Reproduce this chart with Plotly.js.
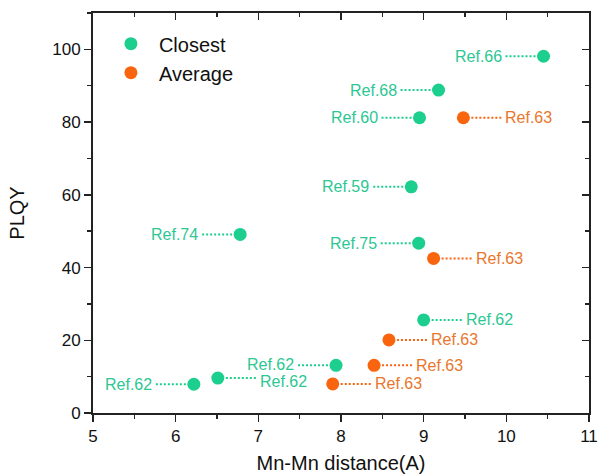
<!DOCTYPE html>
<html>
<head>
<meta charset="utf-8">
<script src="https://cdn.plot.ly/plotly-3.0.1.min.js"></script>
<style>html,body{margin:0;padding:0;background:#fff;}#chart{width:599px;height:475px;}</style>
</head>
<body>
<div id="chart"></div>
<script>
// Data
var closestX = [10.45, 9.18, 8.95, 8.85, 8.94, 6.78, 9.00, 7.94, 6.51, 6.22];
var closestY = [98.1, 88.8, 81.2, 62.2, 46.7, 49.1, 25.6, 13.1, 9.6, 7.9];
var closestRef = ['Ref.66', 'Ref.68', 'Ref.60', 'Ref.59', 'Ref.75', 'Ref.74', 'Ref.62', 'Ref.62', 'Ref.62', 'Ref.62'];
var closestSide = ['left', 'left', 'left', 'left', 'left', 'left', 'right', 'left', 'right', 'left'];
// small vertical nudge (px) of label text, to keep neighbouring labels apart
var closestNudge = [0, 0, 0, 0, 0, 0, 0, 1, -3, 0];

var averageX = [9.48, 9.12, 8.58, 8.40, 7.90];
var averageY = [81.2, 42.5, 20.1, 13.1, 8.0];
var averageRef = ['Ref.63', 'Ref.63', 'Ref.63', 'Ref.63', 'Ref.63'];
var averageSide = ['right', 'right', 'right', 'right', 'right'];
var averageNudge = [0, 0, 0, 0, 0];

var xRange = [5, 11];
var yRange = [0, 110];

var FONT = 'Liberation Sans, Arial, sans-serif';
var green = '#1ccf8e', greenText = '#2cc793';
var orange = '#f9650f', orangeText = '#e8772c';
var axisColor = '#222';

var traces = [
  {x: closestX, y: closestY, type: 'scatter', mode: 'markers', name: 'Closest',
   marker: {color: green, size: 13}, hoverinfo: 'x+y'},
  {x: averageX, y: averageY, type: 'scatter', mode: 'markers', name: 'Average',
   marker: {color: orange, size: 13}, hoverinfo: 'x+y'},
  {x: [], y: [], xaxis: 'x2', yaxis: 'y', showlegend: false, hoverinfo: 'skip', type: 'scatter'},
  {x: [], y: [], xaxis: 'x', yaxis: 'y2', showlegend: false, hoverinfo: 'skip', type: 'scatter'}
];

var annotations = [], shapes = [];
function addLabels(xs, ys, refs, sides, nudges, lineColor, textColor) {
  for (var i = 0; i < xs.length; i++) {
    var dir = sides[i] === 'left' ? -1 : 1;
    annotations.push({
      x: xs[i], y: ys[i], xref: 'x', yref: 'y', text: refs[i], showarrow: false,
      xanchor: dir < 0 ? 'right' : 'left', yanchor: 'middle', xshift: dir * 40, yshift: nudges[i],
      font: {family: FONT, size: 16, color: textColor}
    });
    shapes.push({
      type: 'line', xref: 'x', yref: 'y', xsizemode: 'pixel', xanchor: xs[i],
      x0: 0, x1: dir * 38, y0: ys[i], y1: ys[i], layer: 'below',
      line: {color: lineColor, width: 2, dash: '2px,2px'}
    });
  }
}
addLabels(closestX, closestY, closestRef, closestSide, closestNudge, green, greenText);
addLabels(averageX, averageY, averageRef, averageSide, averageNudge, orange, orangeText);

var baseAxis = {
  showgrid: false, zeroline: false, showline: true, linecolor: axisColor, linewidth: 2,
  ticks: 'outside', ticklen: 7, tickwidth: 1.5, tickcolor: axisColor,
  tickfont: {family: FONT, size: 17, color: '#111'}
};

var layout = {
  width: 599, height: 475,
  margin: {l: 93, r: 10, t: 13, b: 62},
  paper_bgcolor: '#fff', plot_bgcolor: '#fff',
  font: {family: FONT, color: '#111'},
  showlegend: true,
  legend: {x: 0.02, y: 0.972, xanchor: 'left', yanchor: 'top', bgcolor: 'rgba(0,0,0,0)',
           font: {family: FONT, size: 20, color: '#111'}, itemwidth: 46, tracegroupgap: 0},
  xaxis: Object.assign({}, baseAxis, {
    range: xRange, dtick: 1, tick0: 5, mirror: true,
    minor: {dtick: 0.5, ticks: 'outside', ticklen: 4, tickwidth: 1.5, tickcolor: axisColor, showgrid: false},
    title: {text: 'Mn-Mn distance(A)', font: {family: FONT, size: 20, color: '#111'}, standoff: 11}
  }),
  yaxis: Object.assign({}, baseAxis, {
    range: yRange, dtick: 20, tick0: 0, mirror: true,
    minor: {dtick: 10, ticks: 'outside', ticklen: 4, tickwidth: 1.5, tickcolor: axisColor, showgrid: false},
    title: {text: 'PLQY', font: {family: FONT, size: 20, color: '#111'}, standoff: 22}
  }),
  xaxis2: {overlaying: 'x', side: 'top', anchor: 'y', range: xRange, dtick: 1, tick0: 5,
    showgrid: false, zeroline: false, showline: false, showticklabels: false,
    ticks: 'inside', ticklen: 7, tickwidth: 1.5, tickcolor: axisColor,
    minor: {dtick: 0.5, ticks: 'inside', ticklen: 4, tickwidth: 1.5, tickcolor: axisColor, showgrid: false}},
  yaxis2: {overlaying: 'y', side: 'right', anchor: 'x', range: yRange, dtick: 20, tick0: 0,
    showgrid: false, zeroline: false, showline: false, showticklabels: false,
    ticks: 'inside', ticklen: 7, tickwidth: 1.5, tickcolor: axisColor,
    minor: {dtick: 10, ticks: 'inside', ticklen: 4, tickwidth: 1.5, tickcolor: axisColor, showgrid: false}},
  annotations: annotations,
  shapes: shapes
};

Plotly.newPlot('chart', traces, layout, {displayModeBar: false, staticPlot: true});
</script>
</body>
</html>
